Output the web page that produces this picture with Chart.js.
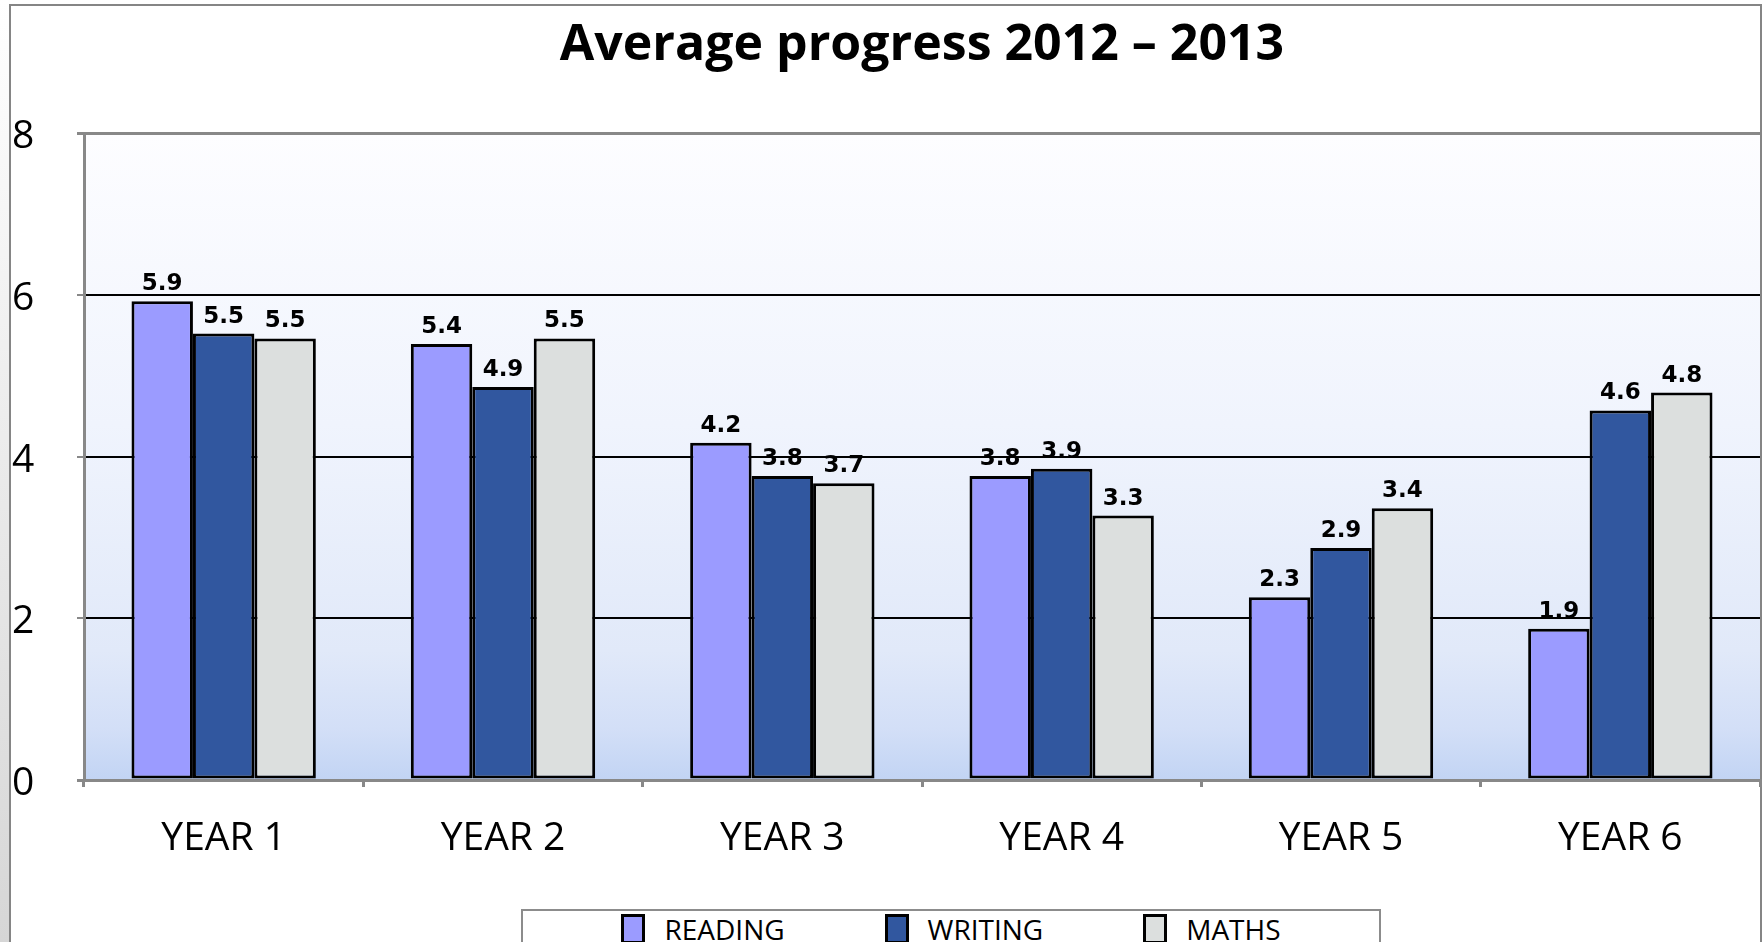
<!DOCTYPE html>
<html>
<head>
<meta charset="utf-8">
<title>Average progress 2012 – 2013</title>
<script src="https://cdn.jsdelivr.net/npm/chart.js@4.4.1/dist/chart.umd.min.js"></script>
<style>
    html, body { margin: 0; padding: 0; background: #fff; overflow: hidden; }
    #wrap { position: relative; width: 1763px; height: 942px; }
    #legend {
        position: absolute; left: 521px; top: 909px; width: 860px; height: 70px;
        box-sizing: border-box; border: 2px solid #8c8c8c; border-bottom: none; background: #fff;
        display: flex; justify-content: center; align-items: flex-start; gap: 100px;
        font-family: "Open Sans", sans-serif; font-size: 28px; color: #000;
    }
    .item { display: flex; align-items: center; margin-top: -1px; }
    .swatch { width: 24px; height: 30px; box-sizing: border-box; border: 3px solid #000; margin-right: 19px; }
</style>
</head>
<body>
<div id="wrap">
    <canvas id="progressChart" width="1763" height="942"></canvas>
    <div id="legend"></div>
</div>
<script>
// Chart data
const years = ['YEAR 1', 'YEAR 2', 'YEAR 3', 'YEAR 4', 'YEAR 5', 'YEAR 6'];
const reading = [5.92, 5.39, 4.17, 3.76, 2.26, 1.87];
const writing = [5.52, 4.86, 3.76, 3.85, 2.87, 4.57];
const maths = [5.46, 5.46, 3.67, 3.27, 3.36, 4.79];
const yTicks = [0, 2, 4, 6, 8];

const seriesNames = ['READING', 'WRITING', 'MATHS'];
const seriesColors = ['#9b9bff', '#31579f', '#dcdfde'];

// Plot background, frame and left strip
const backdrop = {
    id: 'backdrop',
    beforeDraw(chart) {
        const { ctx, chartArea: a, width, height } = chart;
        ctx.save();
        const strip = ctx.createLinearGradient(0, 0, 0, height);
        strip.addColorStop(0, '#ffffff');
        strip.addColorStop(1, '#d6d6d6');
        ctx.fillStyle = strip;
        ctx.fillRect(0, 0, 10, height);

        const g = ctx.createLinearGradient(0, a.top, 0, a.bottom);
        g.addColorStop(0, '#fdfdff');
        g.addColorStop(0.45, '#f0f4fd');
        g.addColorStop(0.8, '#e1e9f9');
        g.addColorStop(0.92, '#d3dff7');
        g.addColorStop(1, '#c2d4f4');
        ctx.fillStyle = g;
        ctx.fillRect(a.left, a.top, a.right - a.left, a.bottom - a.top);

        ctx.strokeStyle = '#858585';
        ctx.lineWidth = 2;
        ctx.beginPath();
        ctx.moveTo(10, height);
        ctx.lineTo(10, 5);
        ctx.lineTo(width - 2, 5);
        ctx.lineTo(width - 2, height);
        ctx.stroke();
        ctx.restore();
    }
};

// Value labels above each bar
const valueLabels = {
    id: 'valueLabels',
    afterDatasetsDraw(chart) {
        const ctx = chart.ctx;
        ctx.save();
        ctx.font = 'bold 23px "DejaVu Sans"';
        ctx.fillStyle = '#000';
        ctx.textAlign = 'center';
        ctx.textBaseline = 'alphabetic';
        chart.data.datasets.forEach((ds, i) => {
            chart.getDatasetMeta(i).data.forEach((bar, j) => {
                ctx.fillText(ds.data[j].toFixed(1), bar.x, bar.y - 11);
            });
        });
        ctx.restore();
    }
};

const datasets = [reading, writing, maths].map((values, i) => ({
    label: seriesNames[i],
    data: values,
    backgroundColor: seriesColors[i],
    borderColor: '#000',
    borderWidth: 3,
    borderSkipped: false,
    categoryPercentage: 0.66,
    barPercentage: 1
}));

const chart = new Chart(document.getElementById('progressChart'), {
    type: 'bar',
    data: { labels: years, datasets: datasets },
    options: {
        responsive: false,
        animation: false,
        layout: { padding: { left: 12, right: 3, top: 0, bottom: 62 } },
        plugins: {
            legend: { display: false },
            tooltip: { enabled: false },
            title: {
                display: true,
                text: 'Average progress 2012 – 2013',
                fullSize: false,
                color: '#000',
                font: { family: 'Open Sans', size: 50, weight: 'bold', lineHeight: 1.2 },
                padding: { top: 16, bottom: 57 }
            }
        },
        scales: {
            x: {
                grid: { drawOnChartArea: false, offset: true, color: '#888', lineWidth: 3, tickLength: 7 },
                border: { color: '#888', width: 3 },
                ticks: { color: '#000', font: { family: 'Open Sans', size: 39 }, padding: 28 },
                afterFit(scale) { scale.height = 100; }
            },
            y: {
                min: 0,
                max: 8,
                afterBuildTicks(scale) { scale.ticks = yTicks.map(v => ({ value: v })); },
                ticks: { color: '#000', font: { family: 'Open Sans', size: 39 }, crossAlign: 'far', labelOffset: 4 },
                grid: {
                    color: c => (c.tick && (c.tick.value === 0 || c.tick.value === 8)) ? '#888' : '#000',
                    lineWidth: c => (c.tick && (c.tick.value === 0 || c.tick.value === 8)) ? 3 : 2,
                    tickColor: '#888',
                    tickLength: 7
                },
                border: { color: '#888', width: 3 },
                afterFit(scale) { scale.width = 72; }
            }
        }
    },
    plugins: [backdrop, valueLabels]
});

// HTML legend built from the datasets
const legendEl = document.getElementById('legend');
chart.data.datasets.forEach(ds => {
    const item = document.createElement('div');
    item.className = 'item';
    const sw = document.createElement('span');
    sw.className = 'swatch';
    sw.style.background = ds.backgroundColor;
    const txt = document.createElement('span');
    txt.textContent = ds.label;
    item.appendChild(sw);
    item.appendChild(txt);
    legendEl.appendChild(item);
});
</script>
</body>
</html>
